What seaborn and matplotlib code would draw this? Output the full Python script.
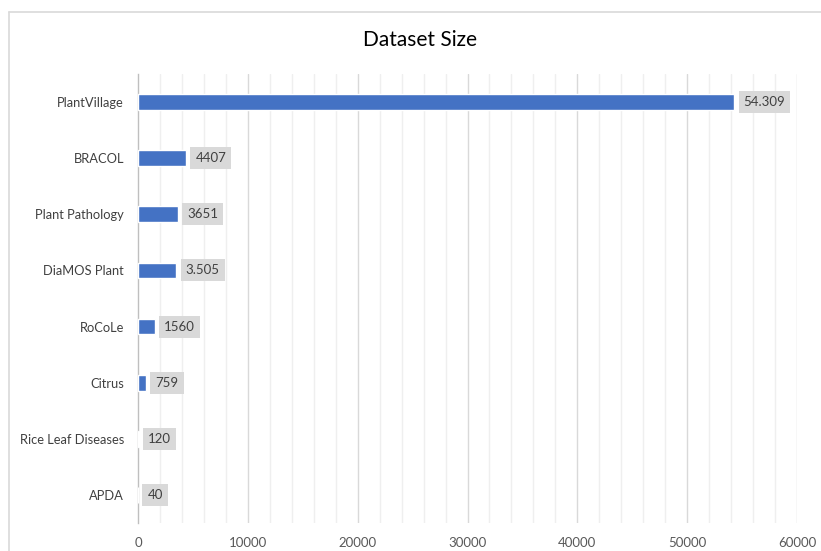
import matplotlib
matplotlib.use("Agg")
import matplotlib.pyplot as plt
import seaborn as sns
import pandas as pd
from matplotlib.lines import Line2D

# Dataset sizes (number of images)
datasets = ["PlantVillage", "BRACOL", "Plant Pathology", "DiaMOS Plant",
            "RoCoLe", "Citrus", "Rice Leaf Diseases", "APDA"]
sizes = [54309, 4407, 3651, 3505, 1560, 759, 120, 40]
size_labels = ["54.309", "4407", "3651", "3.505", "1560", "759", "120", "40"]
x_ticks = [0, 10000, 20000, 30000, 40000, 50000, 60000]

df = pd.DataFrame({"dataset": datasets, "size": sizes})

sns.set_theme(style="white")
plt.rcParams["font.family"] = ["Lato", "DejaVu Sans"]

fig = plt.figure(figsize=(8.21, 5.51), dpi=100)
ax = fig.add_axes([138 / 821, 1 - 523 / 551, (797 - 138) / 821, (523 - 74) / 551])

# light chart frame
fig.add_artist(Line2D([9 / 821, 1.0], [1 - 12 / 551, 1 - 12 / 551],
                      transform=fig.transFigure, color="#D9D9D9", lw=1.2))
fig.add_artist(Line2D([9 / 821, 9 / 821], [0.0, 1 - 12 / 551],
                      transform=fig.transFigure, color="#D9D9D9", lw=1.2))

sns.barplot(data=df, x="size", y="dataset", orient="h", color="#4472C4",
            width=0.28, saturation=1, ax=ax, zorder=3)

ax.set_xlim(0, 60000)
ax.set_ylim(len(datasets) - 0.5, -0.5)

# gridlines: minor every 2000, major every 10000
for v in range(2000, 60001, 2000):
    major = v % 10000 == 0
    ax.axvline(v, color="#D9D9D9" if major else "#EFEFEF", lw=1.0, zorder=0)

ax.set_xticks(x_ticks)
ax.set_xticklabels([str(t) for t in x_ticks], fontsize=9.5, color="#595959")
ax.tick_params(axis="x", length=0, pad=10)

# category axis with ticks between categories
ax.set_yticks(range(len(datasets)))
ax.set_yticklabels(datasets, fontsize=9.3, color="#404040")
ax.tick_params(axis="y", which="major", length=0, pad=10)
ax.set_yticks([i - 0.5 for i in range(len(datasets) + 1)], minor=True)
ax.tick_params(axis="y", which="minor", length=4, color="#BFBFBF", width=1, direction="out")

for side in ["top", "right", "bottom"]:
    ax.spines[side].set_visible(False)
ax.spines["left"].set_color("#BFBFBF")
ax.spines["left"].set_linewidth(1.0)
ax.set_xlabel("")
ax.set_ylabel("")

# value labels in grey boxes
for i, (v, lab) in enumerate(zip(sizes, size_labels)):
    ax.annotate(lab, xy=(v, i), xytext=(6.5, 0), textcoords="offset points",
                ha="left", va="center", fontsize=9.5, color="#404040", zorder=4,
                bbox=dict(boxstyle="square,pad=0.38", fc="#D9D9D9", ec="none"))

fig.text(420 / 821, 1 - 40 / 551, "Dataset Size", ha="center", va="center",
         fontsize=15, color="#000000")

fig.savefig("out.png", dpi=100)
